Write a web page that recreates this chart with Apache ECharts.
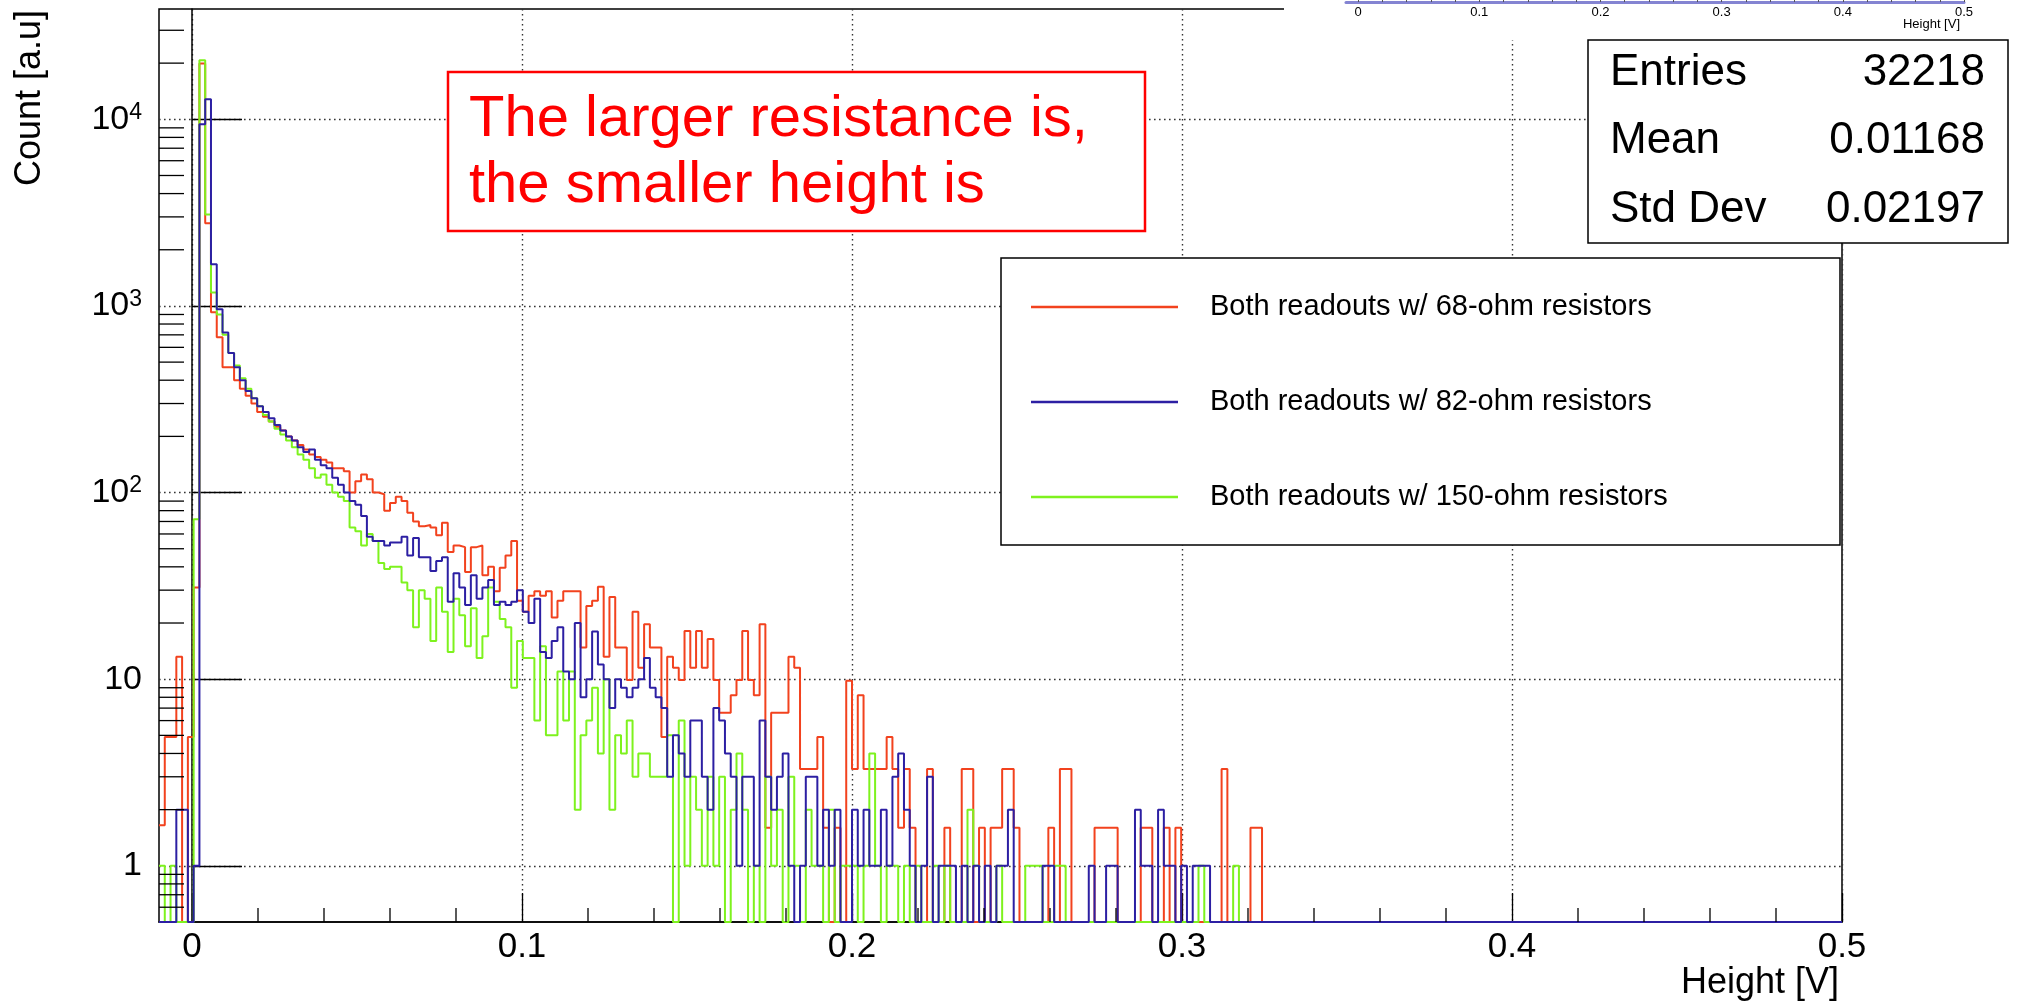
<!DOCTYPE html>
<html><head><meta charset="utf-8">
<script src="https://cdn.jsdelivr.net/npm/echarts@6/dist/echarts.min.js"></script>
<style>html,body{margin:0;padding:0;background:#fff}#c{width:2020px;height:1004px}</style>
</head><body><div id="c"></div>
<script>
// ---- data ----
const binStart = -0.01;
const binWidth = 0.00175;
const seriesNames = ['Both readouts w/ 68-ohm resistors', 'Both readouts w/ 82-ohm resistors', 'Both readouts w/ 150-ohm resistors'];
const seriesColors = ['#f2421e', '#2c1fa3', '#7ef21e'];
const red68 = [
 1.65,4.9,4.9,13.2,0,4.9,31,19900,2770,925,
 680,470,470,400,360,330,300,270,255,240,
 225,215,200,190,180,170,160,155,150,145,
 135,135,130,100,115,125,118,100,98,80,
 88,95,90,78,70,66,67,65,59,69,
 48,52,51,37.5,51,52,36,40,29.6,39.5,
 46,55,26.3,23,28,29.6,28,29.6,21.4,26.3,
 29.6,29.6,29.6,14.8,24.7,26.3,31.3,13.2,27.6,14.8,
 14.8,9.9,23,11.5,19.7,14.8,14.8,4.9,13.2,11.5,
 9.9,18.1,11.5,18.1,11.5,16.4,9.9,6.6,6.6,8.2,
 9.9,18.1,9.9,8.2,19.7,1.6,6.6,6.6,6.6,13.2,
 11.5,3.3,3.3,3.3,4.9,1.6,0,1.6,0,9.8,
 3.3,8.2,3.3,3.3,3.3,3.3,4.9,3.3,1.6,3.3,
 1.6,0,0,3.3,0,0,1.6,0,0,3.3,
 3.3,0,1.6,0,1.6,1.6,3.3,3.3,1.6,0,
 0,0,0,0,1.6,0,3.3,3.3,0,0,
 0,0,1.6,1.6,1.6,1.6,0,0,0,0,
 1.6,1.6,0,0,1.6,0,1.6,0,0,0,
 0,0,0,0,3.3,0,0,0,0,1.6,
 1.6,0
];
const blue82 = [
 0,0,0,2,2,0,1,9400,12800,1670,
 960,720,560,470,400,350,320,290,270,250,
 230,215,200,190,175,165,170,150,140,135,
 120,110,100,90,86,75,58,55,55,52,
 54,54,58,46,57,45,45,38,43,45,
 26,37,31,25,36,27,31,34,25,26,
 25,26,30,23,20,27,14,13,16,19,
 11,10,20,8,10,18,12,10,7,10,
 9,8,9,10,13,9,8,7,3,5,
 4,3,6,6,3,2,7,6,4,3,
 1,3,3,1,6,3,2,3,4,1,
 0,1,3,3,1,2,1,2,0,0,
 2,1,2,1,1,2,1,3,4,2,
 1,0,1,3,0,1,1,1,0,1,
 0,1,0,1,0,1,1,2,0,0,
 0,0,0,1,1,0,0,0,0,0,
 0,1,0,0,1,1,0,0,0,2,
 1,1,0,2,1,1,0,1,0,1,
 1,1
];
const green150 = [
 1,0,1,0,0,0,72,20700,3090,1180,
 900,700,560,480,410,360,320,290,260,240,
 220,205,190,175,160,150,135,120,125,110,
 100,95,90,65,62,52,60,55,42,39,
 40,40,33,30,19,30,27,16,31,23,
 14,27,22,15,24,13,17,31,26,21,
 19,9,16,13,13,6,15,5,5,11,
 6,11,2,5,6,9,4,10,2,5,
 4,6,3,4,4,3,3,3,5,0,
 6,1,3,2,1,3,1,3,0,2,
 4,2,0,1,0,3,1,2,0,3,
 1,0,2,1,1,0,2,0,1,1,
 1,0,1,4,1,0,1,1,0,1,
 0,1,0,0,1,0,1,0,0,0,
 2,1,0,0,0,1,0,0,0,0,
 1,1,1,0,0,1,1,0,0,0,
 0,0,0,0,0,0,0,0,0,0,
 0,0,0,0,0,0,0,0,0,0,
 1,0,0,0,0,0,1
];
const xTickValues = [0, 0.1, 0.2, 0.3, 0.4, 0.5];
const xMinorTickValues = [0.02,0.04,0.06,0.08,0.12,0.14,0.16,0.18,0.22,0.24,0.26,0.28,0.32,0.34,0.36,0.38,0.42,0.44,0.46,0.48];
const yTickValues = [1, 10, 100, 1000, 10000];
const yMinorTickValues = [0.6,0.7,0.8,0.9,2,3,4,5,6,7,8,9,20,30,40,50,60,70,80,90,200,300,400,500,600,700,800,900,2000,3000,4000,5000,6000,7000,8000,9000,20000,30000];
const insetTickValues = [0,0.02,0.04,0.06,0.08,0.1,0.12,0.14,0.16,0.18,0.2,0.22,0.24,0.26,0.28,0.3,0.32,0.34,0.36,0.38,0.4,0.42,0.44,0.46,0.48,0.5];
const statsLabels = ['Entries', 'Mean', 'Std Dev'];
const statsValues = ['32218', '0.01168', '0.02197'];
const noteLines = ['The larger resistance is,', 'the smaller height is'];
const xTitle = 'Height [V]';
const yTitle = 'Count [a.u]';

// ---- chart ----
const X_MIN = -0.01, X_MAX = 0.5, Y_MIN = 0.5, Y_MAX = 39000;
const FONT = '"Liberation Sans", Arial, Helvetica, sans-serif';
const MID = 0.3465; // baseline offset below 'middle' for Liberation Sans

function steps(vals) {
  const pts = [];
  for (let i = 0; i < vals.length; i++) {
    const v = vals[i] > 0 ? vals[i] : Y_MIN;
    pts.push([binStart + i * binWidth, v]);
  }
  const last = vals[vals.length - 1] > 0 ? vals[vals.length - 1] : Y_MIN;
  pts.push([binStart + vals.length * binWidth, last]);
  pts.push([binStart + vals.length * binWidth, Y_MIN]);
  pts.push([X_MAX, Y_MIN]);
  return pts;
}

function txt(text, x, baseline, size, color, align, extra) {
  return Object.assign({type: 'text', z: 21, x: x, y: baseline - MID * size,
    style: {text: text, font: size + 'px ' + FONT, fill: color, textAlign: align || 'left', textVerticalAlign: 'middle'}}, extra || {});
}

const chart = echarts.init(document.getElementById('c'), null, {renderer: 'canvas'});

function tickSeries(values, isX, len) {
  return {
    type: 'custom', xAxisIndex: 0, yAxisIndex: 0, silent: true, z: 5,
    data: values.map(v => isX ? [v, Y_MIN] : [X_MIN, v]),
    encode: {x: 0, y: 1},
    renderItem: function (params, api) {
      const p = api.coord([api.value(0), api.value(1)]);
      const shape = isX ? {x1: p[0], y1: p[1], x2: p[0], y2: p[1] - len}
                        : {x1: p[0], y1: p[1], x2: p[0] + len, y2: p[1]};
      return {type: 'line', shape: shape, style: {stroke: '#000', lineWidth: 1.3}};
    }
  };
}

const dataSets = [red68, blue82, green150];
const order = [0, 2, 1];
const histSeries = order.map(k => ({
  name: seriesNames[k], type: 'line', step: 'end', showSymbol: false, symbol: 'none',
  data: steps(dataSets[k]), xAxisIndex: 0, yAxisIndex: 0, clip: true, z: 3,
  lineStyle: {color: seriesColors[k], width: 2}, itemStyle: {color: seriesColors[k]}
}));

const gridLine = {show: true, lineStyle: {color: '#333', width: 1.4, type: [1.6, 3.4]}};

const option = {
  animation: false,
  backgroundColor: '#fff',
  grid: [
    {left: 159, top: 9, width: 1683, height: 913, show: true, borderColor: '#000', borderWidth: 1.5, backgroundColor: 'transparent'},
    {left: 1346, top: 0, width: 618, height: 2, show: false}
  ],
  xAxis: [{
    type: 'value', gridIndex: 0, min: X_MIN, max: X_MAX,
    axisLine: {show: true, onZero: false, lineStyle: {color: '#000', width: 1.5}},
    axisTick: {show: true, inside: true, length: 29, customValues: xTickValues, lineStyle: {color: '#000', width: 1.3}},
    axisLabel: {customValues: xTickValues, fontFamily: FONT, fontSize: 35, color: '#000', margin: 8,
      formatter: v => String(Math.round(v * 10) / 10)},
    splitLine: gridLine
  }, {
    type: 'value', gridIndex: 1, min: X_MIN, max: X_MAX, z: 30,
    axisLine: {show: true, onZero: false, lineStyle: {color: '#8484d2', width: 3}},
    axisTick: {show: true, inside: true, length: 3, customValues: insetTickValues, lineStyle: {color: '#555'}},
    axisLabel: {customValues: xTickValues, fontFamily: FONT, fontSize: 13, color: '#000', margin: 4,
      formatter: v => String(Math.round(v * 10) / 10)},
    splitLine: {show: false}
  }],
  yAxis: [{
    type: 'log', gridIndex: 0, min: Y_MIN, max: Y_MAX, logBase: 10,
    axisLine: {show: true, lineStyle: {color: '#000', width: 1.5}},
    axisTick: {show: true, inside: true, length: 50, customValues: yTickValues, lineStyle: {color: '#000', width: 1.3}},
    axisLabel: {customValues: yTickValues, fontFamily: FONT, fontSize: 34, color: '#000', margin: 17,
      formatter: v => v >= 100 ? '{b|10}{s|' + Math.round(Math.log10(v)) + '}' : String(Math.round(v)),
      rich: {b: {fontFamily: FONT, fontSize: 34, color: '#000', lineHeight: 36},
             s: {fontFamily: FONT, fontSize: 23, color: '#000', verticalAlign: 'top', lineHeight: 36}}},
    splitLine: gridLine
  }, {
    type: 'value', gridIndex: 1, show: false, min: 0, max: 1
  }],
  legend: {
    show: true, orient: 'vertical', left: 1026, top: 287, z: 30,
    itemWidth: 147, itemHeight: 2.5, itemGap: 65, icon: 'rect',
    data: seriesNames,
    textStyle: {fontFamily: FONT, fontSize: 29, color: '#000', lineHeight: 30, padding: [0, 0, 0, 27]},
    selectedMode: false
  },
  graphic: [
    // partial top-right pad
    {type: 'rect', z: 20, shape: {x: 1284, y: 0, width: 736, height: 40}, style: {fill: '#fff'}},
    // note box
    {type: 'rect', z: 20, shape: {x: 448, y: 72, width: 697, height: 159}, style: {fill: '#fff', stroke: '#ff0000', lineWidth: 2.5}},
    txt(noteLines[0], 469, 140, 58, '#ff0000'),
    txt(noteLines[1], 469, 206, 58, '#ff0000'),
    // stats box
    {type: 'rect', z: 20, shape: {x: 1588, y: 40, width: 420, height: 203}, style: {fill: '#fff', stroke: '#000', lineWidth: 1.5}},
    ...statsLabels.map((t, i) => txt(t, 1610, 88 + i * 68.5, 44, '#000')),
    ...statsValues.map((t, i) => txt(t, 1985, 88 + i * 68.5, 44, '#000', 'right')),
    // legend box
    {type: 'rect', z: 20, shape: {x: 1001, y: 258, width: 839, height: 287}, style: {fill: '#fff', stroke: '#000', lineWidth: 1.5}},
    // axis titles
    txt(xTitle, 1839, 996, 36, '#000', 'right'),
    {type: 'text', z: 21, x: 43 - MID * 36, y: 10, rotation: Math.PI / 2,
      style: {text: yTitle, font: '36px ' + FONT, fill: '#000', textAlign: 'right', textVerticalAlign: 'middle'}},
    Object.assign(txt(xTitle, 1960, 29, 13, '#000', 'right'), {z: 31})
  ],
  series: [
    ...histSeries,
    tickSeries(xMinorTickValues, true, 14),
    tickSeries(yMinorTickValues, false, 25)
  ]
};
chart.setOption(option);
</script>
</body></html>
